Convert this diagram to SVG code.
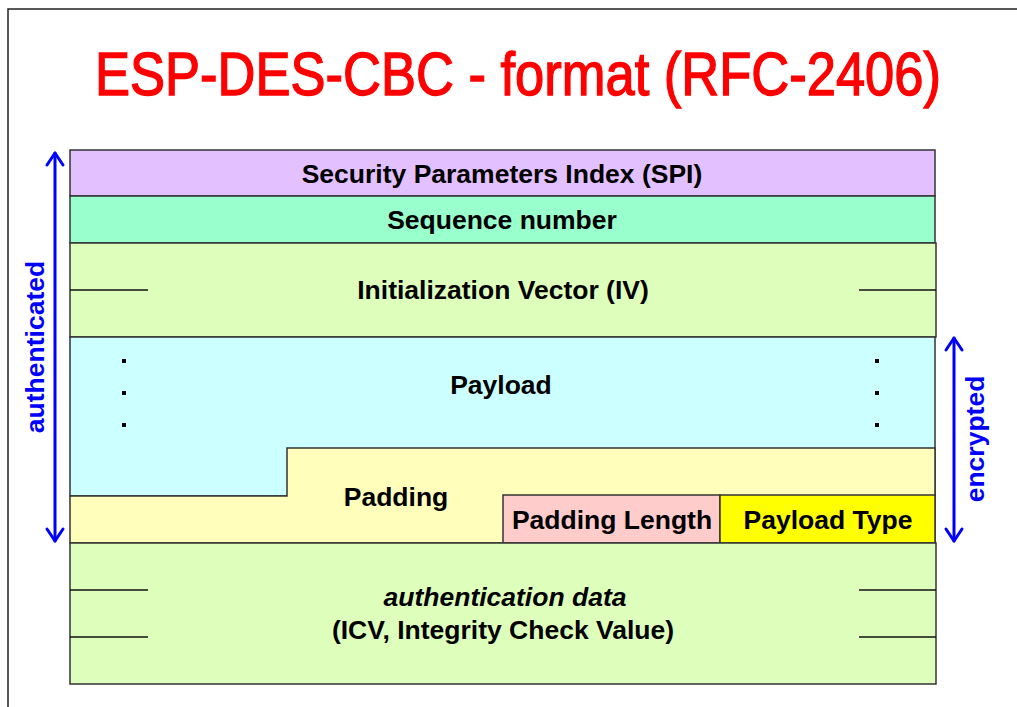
<svg xmlns="http://www.w3.org/2000/svg" width="1017" height="707" viewBox="0 0 1017 707">
  <defs>
    <style>
      .frame { fill: none; stroke: #222; stroke-width: 1.5; }
      .field { stroke: #333; stroke-width: 1.5; }
      .tick { stroke: #111; stroke-width: 1.5; }
      .lbl { font-family: "Liberation Sans", Arial, sans-serif; font-weight: bold; font-size: 26.5px; fill: #000; text-anchor: middle; }
      .side { font-family: "Liberation Sans", Arial, sans-serif; font-weight: bold; font-size: 26.5px; fill: #0000FF; text-anchor: middle; }
      .arrow { stroke: #0000FF; stroke-width: 3; fill: none; stroke-linecap: round; stroke-linejoin: round; }
      .dot { fill: #000; }
      .title { font-family: "Liberation Sans", Arial, sans-serif; font-size: 62px; fill: #FF0000; stroke: #FF0000; stroke-width: 1.4; text-anchor: middle; }
    </style>
  </defs>

  <rect width="1017" height="707" fill="#fff"/>
  <!-- slide frame -->
  <path class="frame" d="M8,707 L8,9 L1017,9"/>

  <!-- condensed heading -->
  <text class="title" transform="translate(518,95) scale(0.847,1)">ESP-DES-CBC - format (RFC-2406)</text>

  <g id="spi">
    <rect class="field" x="70" y="150" width="865" height="46" fill="#E3C0FF"/>
    <text class="lbl" x="502" y="183">Security Parameters Index (SPI)</text>
  </g>

  <g id="sequence">
    <rect class="field" x="70" y="196" width="865" height="47" fill="#99FFCC"/>
    <text class="lbl" x="502" y="229">Sequence number</text>
  </g>

  <g id="iv">
    <rect class="field" x="70" y="243" width="866" height="94" fill="#DDFFBB"/>
    <line class="tick" x1="70" y1="290" x2="148" y2="290"/>
    <line class="tick" x1="859" y1="290" x2="936" y2="290"/>
    <text class="lbl" x="503" y="299">Initialization Vector (IV)</text>
  </g>

  <g id="payload">
    <rect class="field" x="70" y="337" width="865" height="159" fill="#CCFFFF"/>
    <rect class="dot" x="122" y="359" width="4" height="4"/>
    <rect class="dot" x="122" y="391" width="4" height="4"/>
    <rect class="dot" x="122" y="423" width="4" height="4"/>
    <rect class="dot" x="875" y="359" width="4" height="4"/>
    <rect class="dot" x="875" y="391" width="4" height="4"/>
    <rect class="dot" x="875" y="423" width="4" height="4"/>
    <text class="lbl" x="501" y="394">Payload</text>
  </g>

  <g id="padding">
    <path class="field" d="M70,496 L287,496 L287,448 L935,448 L935,543 L70,543 Z" fill="#FFFFBB"/>
    <text class="lbl" x="396" y="506">Padding</text>
  </g>

  <g id="padding-length">
    <rect class="field" x="503" y="495" width="217" height="48" fill="#FFCCCC"/>
    <text class="lbl" x="612" y="529">Padding Length</text>
  </g>

  <g id="payload-type">
    <rect class="field" x="720" y="495" width="215" height="48" fill="#FFFF00"/>
    <text class="lbl" x="828" y="529">Payload Type</text>
  </g>

  <g id="auth-data">
    <rect class="field" x="70" y="543" width="866" height="141" fill="#DDFFBB"/>
    <line class="tick" x1="70" y1="590" x2="148" y2="590"/>
    <line class="tick" x1="70" y1="637" x2="148" y2="637"/>
    <line class="tick" x1="859" y1="590" x2="936" y2="590"/>
    <line class="tick" x1="859" y1="637" x2="936" y2="637"/>
    <text class="lbl" x="505" y="606" font-style="italic">authentication data</text>
    <text class="lbl" x="503" y="639">(ICV, Integrity Check Value)</text>
  </g>

  <g id="connectors">
    <!-- authenticated span -->
    <line class="arrow" x1="55" y1="153" x2="55" y2="541"/>
    <path class="arrow" d="M47,165 L55,153 L63,165"/>
    <path class="arrow" d="M47,529 L55,541 L63,529"/>
    <!-- encrypted span -->
    <line class="arrow" x1="954" y1="338" x2="954" y2="541"/>
    <path class="arrow" d="M946,350 L954,338 L962,350"/>
    <path class="arrow" d="M946,529 L954,541 L962,529"/>
  </g>

  <g id="authenticated">
    <text class="side" transform="translate(44,347) rotate(-90)">authenticated</text>
  </g>
  <g id="encrypted">
    <text class="side" transform="translate(984,439) rotate(-90)">encrypted</text>
  </g>
</svg>
